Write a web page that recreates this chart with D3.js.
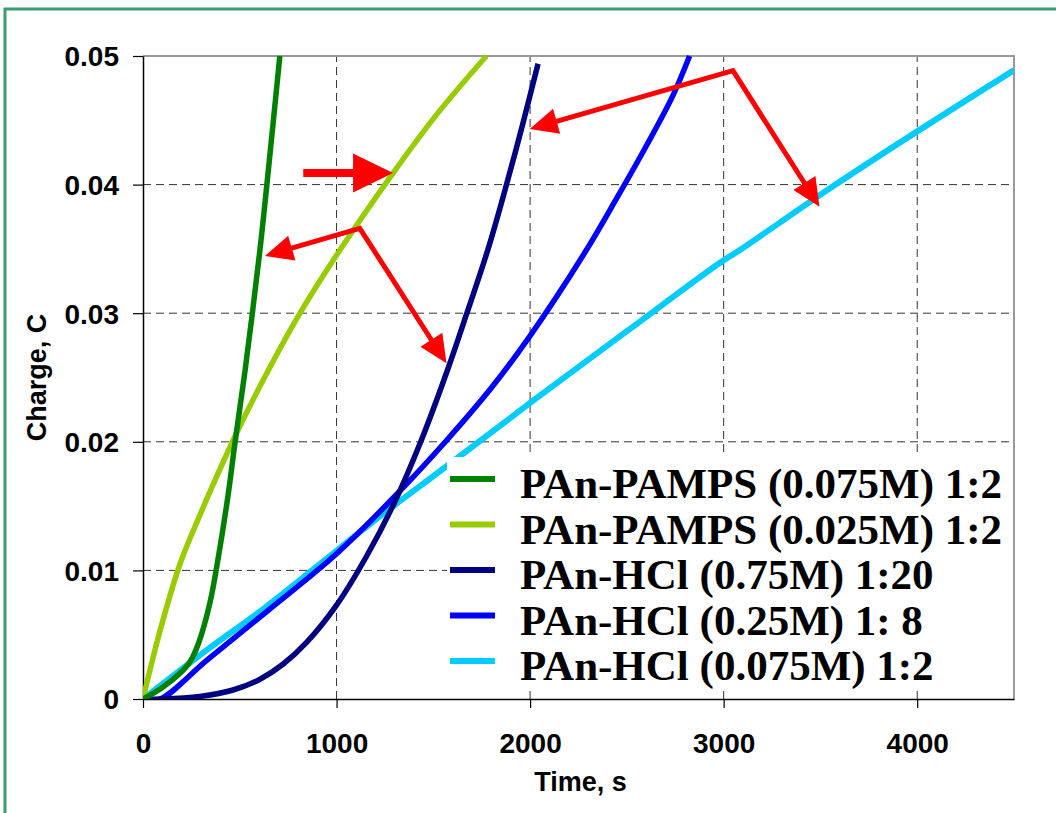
<!DOCTYPE html>
<html>
<head>
<meta charset="utf-8">
<script src="https://cdn.jsdelivr.net/npm/d3@7"></script>
<style>
  html, body { margin: 0; padding: 0; background: #fff; }
  svg { display: block; }
  .tick text { font-family: "Liberation Sans", Arial, sans-serif; font-weight: 700; font-size: 28px; fill: #000; }
  .title { font-family: "Liberation Sans", Arial, sans-serif; font-weight: 700; font-size: 27px; fill: #000; }
  .key { font-family: "Liberation Serif", "Times New Roman", serif; font-weight: 700; font-size: 43px; fill: #000; }
</style>
</head>
<body>
<div id="chart"></div>
<script>
// series: [time s, charge C]
const seriesNames = ["PAn-PAMPS (0.075M) 1:2", "PAn-PAMPS (0.025M) 1:2", "PAn-HCl (0.75M) 1:20", "PAn-HCl (0.25M) 1: 8", "PAn-HCl (0.075M) 1:2"];
const seriesColors = ["#008000", "#99cc00", "#000080", "#0000ff", "#00ccff"];

const pamps075 = [[0,0],[100,0.0009],[191,0.0020],[243,0.0029],[286,0.0043],[346,0.0075],[389,0.0110],[441,0.0160],[475,0.0199],[527,0.0255],[604,0.0349],[640,0.0400],[707,0.0500]];
const pamps025 = [[0,0],[88,0.0053],[191,0.0105],[294,0.0143],[363,0.0167],[484,0.0207],[621,0.0248],[811,0.0300],[1017,0.0349],[1292,0.0409],[1520,0.0455],[1774,0.0500]];
const hcl075 = [[0,0],[100,0],[294,0.0002],[465,0.0007],[600,0.0015],[723,0.0027],[845,0.0044],[1000,0.0073],[1155,0.0111],[1300,0.0153],[1440,0.0202],[1576,0.0257],[1671,0.0299],[1783,0.0350],[1878,0.0400],[1960,0.0446],[2041,0.0494]];
const hcl025 = [[0,0],[88,0],[329,0.0030],[639,0.0068],[1000,0.0113],[1310,0.0159],[1568,0.0201],[1800,0.0242],[1998,0.0282],[2282,0.0347],[2446,0.0389],[2600,0.0430],[2737,0.0469],[2824,0.0500]];
const hcl0075 = [[0,0],[329,0.0038],[639,0.0072],[931,0.0107],[1189,0.0138],[1568,0.0181],[1998,0.0230],[2500,0.0286],[2979,0.0339],[3082,0.0349],[3578,0.0400],[3996,0.0441],[4500,0.0489]];

const xTicks = [0, 1000, 2000, 3000, 4000];
const xTickLabels = ["0", "1000", "2000", "3000", "4000"];
const yTicks = [0, 0.01, 0.02, 0.03, 0.04, 0.05];
const yTickLabels = ["0", "0.01", "0.02", "0.03", "0.04", "0.05"];

// red annotation arrows, in data units
const arrowBig = [[828, 0.0409], [1292, 0.0409]];
const arrowGreens = {vertex: [1120, 0.0366], tips: [[630, 0.03445], [1568, 0.0261]]};
const arrowHcl = {vertex: [3048, 0.04886], tips: [[1998, 0.04432], [3495, 0.03828]]};

const width = 1056, height = 813;
const margin = {left: 143, right: 42, top: 56, bottom: 114};

const svg = d3.select("#chart").append("svg").attr("width", width).attr("height", height);

// outer green frame (cut at right and bottom)
svg.append("path")
    .attr("d", `M5,${height + 5} L5,9 L${width + 5},9`)
    .attr("fill", "none").attr("stroke", "#3d9b70").attr("stroke-width", 3);

const x = d3.scaleLinear().domain([0, 4500]).range([margin.left, width - margin.right]);
const y = d3.scaleLinear().domain([0, 0.05]).range([height - margin.bottom, margin.top]);

// gridlines
svg.append("g").selectAll("line").data(xTicks.filter(d => d > 0)).join("line")
    .attr("x1", d => x(d)).attr("x2", d => x(d)).attr("y1", y(0)).attr("y2", y(0.05))
    .attr("stroke", "#333").attr("stroke-width", 1).attr("stroke-dasharray", "8,5");
svg.append("g").selectAll("line").data(yTicks.filter(d => d > 0 && d < 0.05)).join("line")
    .attr("x1", x(0)).attr("x2", x(4500)).attr("y1", d => y(d)).attr("y2", d => y(d))
    .attr("stroke", "#333").attr("stroke-width", 1).attr("stroke-dasharray", "8,5");

// top and right frame of the plot area
svg.append("path")
    .attr("d", `M${x(0)},${y(0.05)} L${x(4500)},${y(0.05)} L${x(4500)},${y(0)}`)
    .attr("fill", "none").attr("stroke", "#999").attr("stroke-width", 2);

// axes
const xAxis = svg.append("g").attr("transform", `translate(0,${y(0)})`)
    .call(d3.axisBottom(x).tickValues(xTicks).tickFormat((d, i) => xTickLabels[i]).tickSize(9).tickPadding(25).tickSizeOuter(0));
const yAxis = svg.append("g").attr("transform", `translate(${x(0)},0)`)
    .call(d3.axisLeft(y).tickValues(yTicks).tickFormat((d, i) => yTickLabels[i]).tickSize(10).tickPadding(14).tickSizeOuter(0));
[xAxis, yAxis].forEach(a => {
    a.select(".domain").attr("stroke", "#000").attr("stroke-width", 1.5);
    a.selectAll(".tick line").attr("stroke", "#000").attr("stroke-width", 1.2);
});
xAxis.selectAll(".tick text").attr("dy", "0.71em");
yAxis.selectAll(".tick text").attr("dy", "0.35em");

svg.append("text").attr("class", "title").attr("x", x(2250) + 2).attr("y", 791)
    .attr("text-anchor", "middle").text("Time, s");
svg.append("text").attr("class", "title")
    .attr("transform", `translate(46,${y(0.025)}) rotate(-90)`)
    .attr("text-anchor", "middle").text("Charge, C");

// curves
const allSeries = [pamps075, pamps025, hcl075, hcl025, hcl0075];
const line = d3.line().x(d => x(d[0])).y(d => y(d[1])).curve(d3.curveCatmullRom.alpha(0.5));

svg.append("clipPath").attr("id", "plotClip").append("rect")
    .attr("x", x(0)).attr("y", y(0.05) - 3).attr("width", x(4500) - x(0)).attr("height", y(0) - y(0.05) + 3);

const curves = svg.append("g").attr("clip-path", "url(#plotClip)");
for (let i = allSeries.length - 1; i >= 0; i--) {
    curves.append("path")
        .datum(allSeries[i])
        .attr("d", line)
        .attr("fill", "none")
        .attr("stroke", seriesColors[i])
        .attr("stroke-width", i == 4 ? 6 : 5.5)
        .attr("stroke-linejoin", "round");
}

// arrows
function arrowHead(g, from, tip, len, half) {
    let p0 = [x(from[0]), y(from[1])], p1 = [x(tip[0]), y(tip[1])];
    let dx = p1[0] - p0[0], dy = p1[1] - p0[1];
    let l = Math.hypot(dx, dy);
    let ux = dx / l, uy = dy / l;
    let bx = p1[0] - ux * len, by = p1[1] - uy * len;
    g.append("polygon")
        .attr("points", [[p1[0], p1[1]], [bx - uy * half, by + ux * half], [bx + uy * half, by - ux * half]].map(p => p.join(",")).join(" "))
        .attr("fill", "#ff0000");
    return [bx + ux * 2, by + uy * 2];
}

const arrows = svg.append("g");
let base = arrowHead(arrows, arrowBig[0], arrowBig[1], 40, 19.5);
arrows.append("line")
    .attr("x1", x(arrowBig[0][0])).attr("y1", y(arrowBig[0][1]))
    .attr("x2", base[0]).attr("y2", base[1])
    .attr("stroke", "#ff0000").attr("stroke-width", 8);

[arrowGreens, arrowHcl].forEach(a => {
    let b0 = arrowHead(arrows, a.vertex, a.tips[0], 28, 13);
    let b1 = arrowHead(arrows, a.vertex, a.tips[1], 28, 13);
    arrows.append("path")
        .attr("d", `M${b0[0]},${b0[1]} L${x(a.vertex[0])},${y(a.vertex[1])} L${b1[0]},${b1[1]}`)
        .attr("fill", "none").attr("stroke", "#ff0000").attr("stroke-width", 5)
        .attr("stroke-linejoin", "miter");
});

// legend
const legend = svg.append("g");
legend.append("rect").attr("x", 447).attr("y", 457).attr("width", 565).attr("height", 230).attr("fill", "#fff");
seriesNames.forEach((name, i) => {
    let by = 498 + i * 45.5;
    legend.append("line").attr("x1", 450).attr("x2", 495).attr("y1", by - 19).attr("y2", by - 19)
        .attr("stroke", seriesColors[i]).attr("stroke-width", 6);
    legend.append("text").attr("class", "key").attr("x", 520).attr("y", by).text(name);
});
</script>
</body>
</html>
